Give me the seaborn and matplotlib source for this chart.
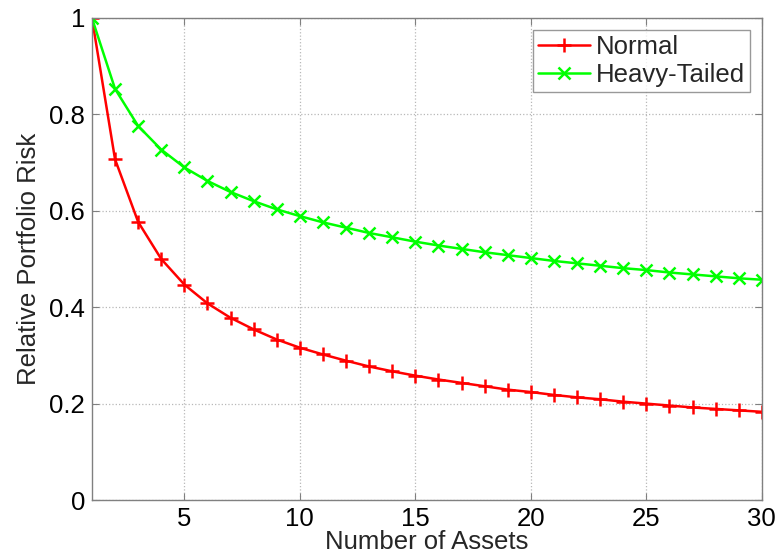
import matplotlib
matplotlib.use("Agg")
import matplotlib.pyplot as plt
import seaborn as sns
import pandas as pd

n_assets = list(range(1, 31))
normal_risk = [1.000, 0.707, 0.577, 0.500, 0.447, 0.408, 0.378, 0.354, 0.333, 0.316,
               0.302, 0.289, 0.277, 0.267, 0.258, 0.250, 0.243, 0.236, 0.229, 0.224,
               0.218, 0.213, 0.209, 0.204, 0.200, 0.196, 0.192, 0.189, 0.186, 0.183]
heavy_risk = [1.000, 0.853, 0.776, 0.727, 0.690, 0.662, 0.639, 0.620, 0.603, 0.589,
              0.576, 0.565, 0.554, 0.545, 0.536, 0.528, 0.521, 0.514, 0.508, 0.502,
              0.496, 0.491, 0.486, 0.481, 0.477, 0.472, 0.468, 0.464, 0.460, 0.457]
series_names = ["Normal", "Heavy-Tailed"]
x_ticks = [5, 10, 15, 20, 25, 30]
y_ticks = [0, 0.2, 0.4, 0.6, 0.8, 1.0]
y_tick_labels = ["0", "0.2", "0.4", "0.6", "0.8", "1"]

sns.set_style("white")
plt.rcParams["font.family"] = ["Liberation Sans", "DejaVu Sans"]

df = pd.DataFrame({
    "n": n_assets * 2,
    "risk": normal_risk + heavy_risk,
    "series": [series_names[0]] * len(n_assets) + [series_names[1]] * len(n_assets),
})

FS = 18.5
fig = plt.figure(figsize=(7.79, 5.57), dpi=100)
ax = fig.add_axes([0.118, 0.1023, 0.860, 0.8654])

colors = {"Normal": "#ff0000", "Heavy-Tailed": "#00ff00"}
markers = {"Normal": "+", "Heavy-Tailed": "x"}
msizes = {"Normal": 10, "Heavy-Tailed": 8.5}
for name in series_names:
    sub = df[df["series"] == name]
    sns.lineplot(data=sub, x="n", y="risk", ax=ax, color=colors[name],
                 marker=markers[name], markersize=msizes[name], markeredgewidth=1.8,
                 markeredgecolor=colors[name], linewidth=1.8, label=name)

ax.set_xlim(1, 30)
ax.set_ylim(0, 1)
ax.set_xticks(x_ticks)
ax.set_yticks(y_ticks)
ax.set_yticklabels(y_tick_labels)
ax.grid(True, linestyle=":", color="#b8b8b8", linewidth=0.9)
for s in ax.spines.values():
    s.set_color("#808080")
    s.set_linewidth(1.0)
ax.tick_params(direction="in", length=5, color="#808080", labelsize=FS,
               labelcolor="black", pad=5, top=True, right=True, bottom=True, left=True,
               labeltop=False, labelright=False)
ax.tick_params(axis="x", pad=5)
ax.set_xlabel("Number of Assets", fontsize=FS, labelpad=-1)
ax.set_ylabel("Relative Portfolio Risk", fontsize=FS, labelpad=6)

leg = ax.legend(loc="upper right", fontsize=FS, frameon=True, fancybox=False,
                edgecolor="#808080", handlelength=2.0, borderpad=0.2,
                labelspacing=0.15, handletextpad=0.25, borderaxespad=0.45)
leg.get_frame().set_linewidth(1.0)

fig.savefig("out.png", dpi=100)
